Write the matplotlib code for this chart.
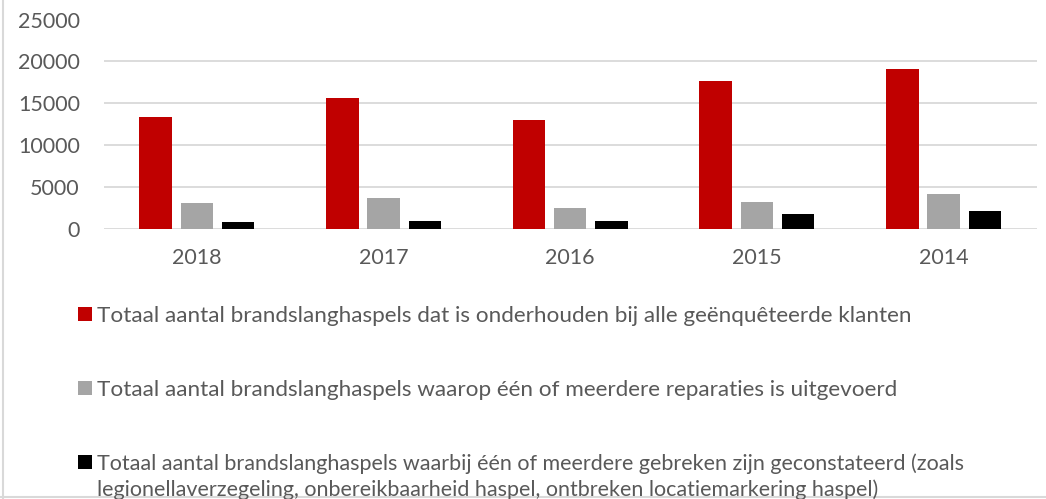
import matplotlib
matplotlib.use("Agg")
import matplotlib.pyplot as plt
from matplotlib.patches import Rectangle
from matplotlib.lines import Line2D
import numpy as np

years = ["2018", "2017", "2016", "2015", "2014"]
onderhouden = [13350, 15600, 13000, 17650, 19100]
reparaties = [3080, 3640, 2450, 3200, 4150]
gebreken = [780, 900, 920, 1760, 2080]

series_labels = [
    "Totaal aantal brandslanghaspels dat is onderhouden bij alle geënquêteerde klanten",
    "Totaal aantal brandslanghaspels waarop één of meerdere reparaties is uitgevoerd",
    "Totaal aantal brandslanghaspels waarbij één of meerdere gebreken zijn geconstateerd (zoals\n"
    "legionellaverzegeling, onbereikbaarheid haspel, ontbreken locatiemarkering haspel)",
]
colors = ["#C00000", "#A5A5A5", "#000000"]
yticks = [0, 5000, 10000, 15000, 20000, 25000]

W, H = 1046, 499
plt.rcParams["font.family"] = ["Lato", "DejaVu Sans"]
fig = plt.figure(figsize=(W / 100, H / 100), dpi=100)
fig.patch.set_facecolor("white")

ax = fig.add_axes([103.5 / W, 1 - 228.7 / H, (1037 - 103.5) / W, (228.7 - 19.5) / H])
x = np.arange(len(years))
bw = 0.174
off = 0.221
for i, (vals, c) in enumerate(zip([onderhouden, reparaties, gebreken], colors)):
    ax.bar(x + (i - 1) * off, vals, width=bw, color=c, zorder=3, label=series_labels[i])

ax.set_xlim(-0.5, len(years) - 0.5)
ax.set_ylim(0, 25000)
ax.set_yticks(yticks)
ax.set_yticklabels([str(t) for t in yticks])
ax.set_xticks(x)
ax.set_xticklabels(years)
ax.grid(axis="y", color="#D9D9D9", linewidth=1.3, zorder=0)
for s in ax.spines.values():
    s.set_visible(False)
ax.tick_params(axis="both", length=0, labelsize=15.5, colors="#595959")
ax.tick_params(axis="y", pad=17)
ax.tick_params(axis="x", pad=14)

# legend (manual, vertical list below the plot)
tc = "#595959"
entries_y = [314, 388, 462]
sizes = [16.2, 16.2, 15.5]
for lab, c, yc, fs in zip(series_labels, colors, entries_y, sizes):
    fig.add_artist(Rectangle((78 / W, 1 - (yc + 7) / H), 14 / W, 14 / H,
                             transform=fig.transFigure, facecolor=c, edgecolor="none"))
    lines = lab.split("\n")
    for k, ln in enumerate(lines):
        fig.text(97 / W, 1 - (yc + k * 26) / H, ln, fontsize=fs, color=tc,
                 va="center_baseline", ha="left")

# chart border
fig.add_artist(Line2D([3 / W, 3 / W], [0, 1], transform=fig.transFigure, color="#D9D9D9", linewidth=1.5))
fig.add_artist(Line2D([0, 1], [1 - 497 / H, 1 - 497 / H], transform=fig.transFigure, color="#D9D9D9", linewidth=1.5))

fig.savefig("out.png", dpi=100)
